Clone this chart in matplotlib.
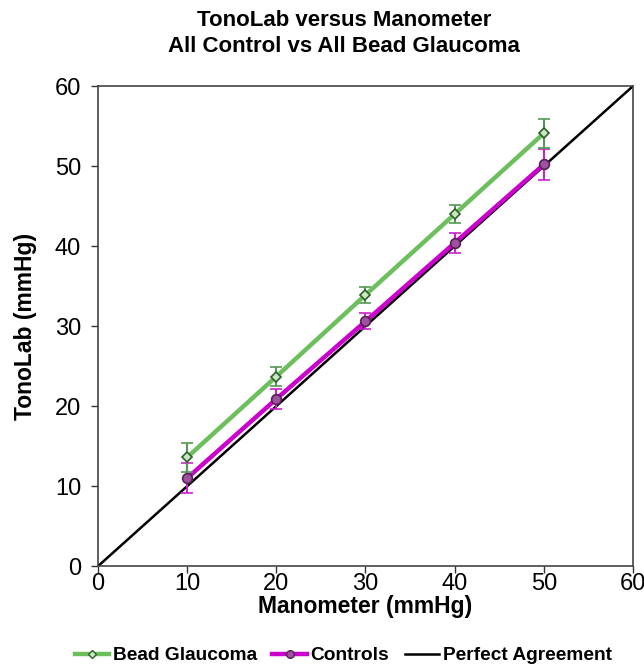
import matplotlib
matplotlib.use("Agg")
import matplotlib.pyplot as plt
from matplotlib.lines import Line2D

plt.rcParams['font.family'] = ['Liberation Sans', 'DejaVu Sans']

manometer = [10, 20, 30, 40, 50]
bead = [13.6, 23.7, 33.9, 44.0, 54.1]
bead_err = [1.8, 1.2, 1.0, 1.1, 1.8]
controls = [11.0, 20.9, 30.6, 40.4, 50.2]
controls_err = [1.9, 1.2, 1.0, 1.2, 1.9]
perfect = [0, 60]

green = '#6cbf5c'
magenta = '#cc00cc'

fig = plt.figure(figsize=(6.44, 6.67), dpi=100)
ax = fig.add_axes([0.152, 0.151, 0.831, 0.720])

ax.plot(perfect, perfect, color='black', lw=1.8, zorder=2)
ax.errorbar(manometer, controls, yerr=controls_err, color=magenta, lw=3.2,
            marker='o', ms=7, mfc='#a050a0', mec='#552255', mew=1.2,
            ecolor='#cc22cc', elinewidth=1.5, capsize=4, capthick=1.5, zorder=3)
ax.errorbar(manometer, bead, yerr=bead_err, color=green, lw=3.2,
            marker='D', ms=5, mfc='#c8e8c0', mec='#2f5f2a', mew=1.2,
            ecolor='#559955', elinewidth=1.5, capsize=4, capthick=1.5, zorder=4)

ax.set_xlim(0, 60)
ax.set_ylim(0, 60)
ax.set_xticks(range(0, 61, 10))
ax.set_yticks(range(0, 61, 10))
ax.tick_params(labelsize=17, direction='out', length=5, width=1, color='#333333')
ax.tick_params(axis='x', pad=0)
ax.tick_params(axis='y', pad=7)
for s in ax.spines.values():
    s.set_color('#444444')
    s.set_linewidth(1.2)

ax.set_xlabel('Manometer (mmHg)', fontsize=16.5, fontweight='bold', labelpad=0)
ax.set_ylabel('TonoLab (mmHg)', fontsize=16.5, fontweight='bold', labelpad=13)
fig.suptitle('TonoLab versus Manometer\nAll Control vs All Bead Glaucoma',
             fontsize=16, fontweight='bold', y=0.985, x=0.534, linespacing=1.3)

handles = [
    Line2D([], [], color=green, lw=3.2, marker='D', ms=4, mfc='#c8e8c0', mec='#2f5f2a', mew=1.0),
    Line2D([], [], color=magenta, lw=3.2, marker='o', ms=5.5, mfc='#a050a0', mec='#552255', mew=1.0),
    Line2D([], [], color='black', lw=1.8),
]
labels = ['Bead Glaucoma', 'Controls', 'Perfect Agreement']
fig.legend(handles, labels, loc='lower center', bbox_to_anchor=(0.533, -0.022), ncol=3,
           frameon=False, prop={'weight': 'bold', 'size': 13.8}, handlelength=1.8,
           handletextpad=0.2, columnspacing=0.8)

fig.savefig('out.png', dpi=100)
